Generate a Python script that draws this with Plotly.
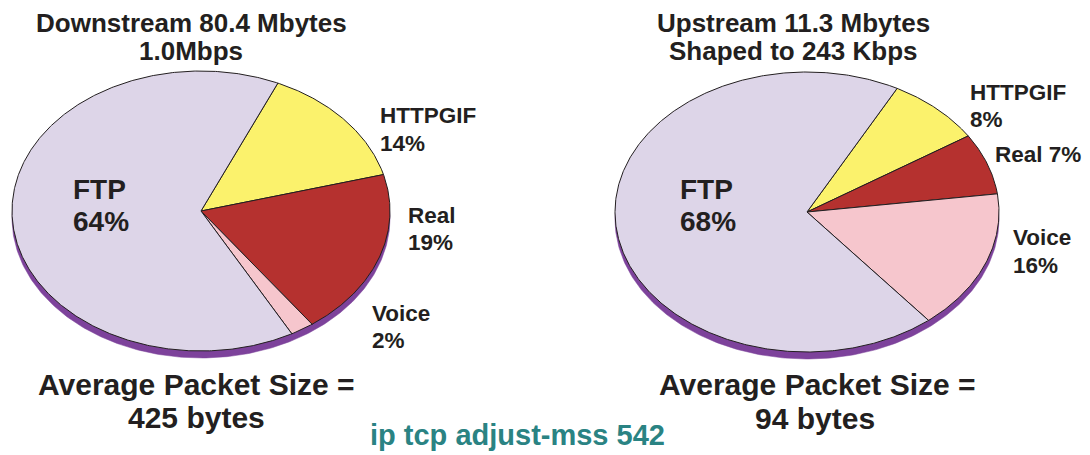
import numpy as np
import plotly.graph_objects as go

# Traffic mix per direction (percent of bytes)
categories = ["FTP", "HTTPGIF", "Real", "Voice"]
downstream_pct = [64, 14, 19, 2]
upstream_pct = [68, 8, 7, 16]

down_title = ["Downstream 80.4 Mbytes", "1.0Mbps"]
up_title = ["Upstream 11.3 Mbytes", "Shaped to 243 Kbps"]
down_avg_packet = 425
up_avg_packet = 94
footer = "ip tcp adjust-mss 542"

slice_colors = {"FTP": "#DDD5E8", "HTTPGIF": "#FBF26C", "Real": "#B5312F", "Voice": "#F6C6CD"}
rim_color = "#7D429B"
ink = "#231F20"
FONT = "Liberation Sans, Arial, Helvetica, sans-serif"

W, H = 1090, 455
fig = go.Figure()


def ellipse_pts(cx, cy, a, b, t0, t1, n=200):
    t = np.radians(np.linspace(t0, t1, n))
    return cx + a * np.cos(t), cy - b * np.sin(t)


def draw_pie(cx, cy, a, b, values, start_deg, depth=7):
    # extruded rim below the top face
    rx, ry = ellipse_pts(cx, cy + depth, a, b, 0, 360, 400)
    fig.add_trace(go.Scatter(x=rx, y=ry, mode="lines", fill="toself",
                             fillcolor=rim_color, line=dict(color=rim_color, width=0.5),
                             hoverinfo="skip", showlegend=False))
    total = float(sum(values))
    # slices run clockwise: HTTPGIF, Real, Voice, then FTP
    order = [1, 2, 3, 0]
    ang = start_deg
    for i in order:
        span = values[i] / total * 360.0
        ex, ey = ellipse_pts(cx, cy, a, b, ang, ang - span, max(8, int(span * 2)))
        xs = np.concatenate([[cx], ex, [cx]])
        ys = np.concatenate([[cy], ey, [cy]])
        fig.add_trace(go.Scatter(x=xs, y=ys, mode="lines", fill="toself",
                                 fillcolor=slice_colors[categories[i]],
                                 line=dict(color=ink, width=1),
                                 name=categories[i], showlegend=False,
                                 hovertemplate=f"{categories[i]}: {values[i]}%<extra></extra>"))
        ang -= span


draw_pie(201, 211, 189, 140, downstream_pct, 66)
draw_pie(807, 212, 192, 140, upstream_pct, 62)


def text_line(x, cap_top, text, size, color=ink, anchor="left"):
    # place one line so that its capital letters start at cap_top
    fig.add_annotation(x=x, y=cap_top - 0.3 * size, xref="x", yref="y",
                       text=f"<b>{text}</b>", showarrow=False,
                       xanchor=anchor, yanchor="top",
                       font=dict(family=FONT, size=size, color=color))


# titles
text_line(191, 14, down_title[0], 26, anchor="center")
text_line(191, 42, down_title[1], 26, anchor="center")
text_line(793, 14, up_title[0], 26, anchor="center")
text_line(793, 42, up_title[1], 26, anchor="center")

# slice labels, downstream
d = dict(zip(categories, downstream_pct))
text_line(71, 180, "FTP", 28)
text_line(71, 212, f"{d['FTP']}%", 28)
text_line(378, 108, "HTTPGIF", 22.5)
text_line(378, 136, f"{d['HTTPGIF']}%", 22.5)
text_line(406, 208, "Real", 22.5)
text_line(406, 235, f"{d['Real']}%", 22.5)
text_line(370, 306, "Voice", 22.5)
text_line(370, 333, f"{d['Voice']}%", 22.5)

# slice labels, upstream
u = dict(zip(categories, upstream_pct))
text_line(678, 180, "FTP", 28)
text_line(678, 212, f"{u['FTP']}%", 28)
text_line(968, 85, "HTTPGIF", 22.5)
text_line(968, 112, f"{u['HTTPGIF']}%", 22.5)
text_line(993, 147, f"Real {u['Real']}%", 22.5)
text_line(1011, 230, "Voice", 22.5)
text_line(1011, 258, f"{u['Voice']}%", 22.5)

# packet size notes
text_line(196, 375, "Average Packet Size =", 30, anchor="center")
text_line(196, 408, f"{down_avg_packet} bytes", 30, anchor="center")
text_line(817, 375, "Average Packet Size =", 30, anchor="center")
text_line(815, 409, f"{up_avg_packet} bytes", 30, anchor="center")

# configuration footer
text_line(517, 426, footer, 29, color="#2A8383", anchor="center")

fig.update_xaxes(range=[0, W], visible=False, fixedrange=True)
fig.update_yaxes(range=[H, 0], visible=False, fixedrange=True)
fig.update_layout(width=W, height=H, margin=dict(l=0, r=0, t=0, b=0),
                  paper_bgcolor="white", plot_bgcolor="white", showlegend=False)

fig.write_html("out.html", config={"displayModeBar": False})
